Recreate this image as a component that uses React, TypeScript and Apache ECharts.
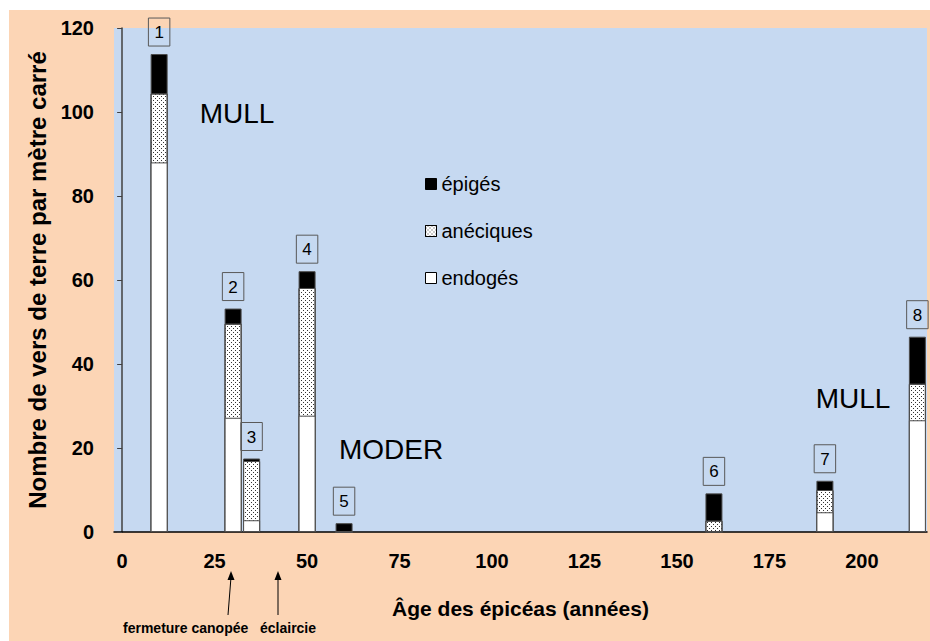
import React, { useEffect, useRef } from 'react';
import * as echarts from 'echarts';

// Data
const ages = [10, 30, 35, 50, 60, 160, 190, 215];
const siteLabels = ['1', '2', '3', '4', '5', '6', '7', '8'];
const endoges = [88, 27.2, 2.8, 27.7, 0, 0, 4.7, 26.6];
const aneciques = [16.4, 22.4, 14.1, 30.4, 0, 2.7, 5.3, 8.7];
const epiges = [9.4, 3.6, 0.6, 4.0, 2.1, 6.5, 2.2, 11.2];
const xTickValues = [0, 25, 50, 75, 100, 125, 150, 175, 200];
const legendOrder = ['épigés', 'anéciques', 'endogés'];

const FONT = "Arial, 'Liberation Sans', sans-serif";

export default function App() {
  const ref = useRef<HTMLDivElement>(null);
  useEffect(() => {
    if (!ref.current) return;
    const chart = echarts.init(ref.current, null, { renderer: 'svg' });
    const border = { borderColor: '#4d4d4d', borderWidth: 1 };
    // Stack manually (value x-axis): each layer drawn from 0 to its cumulative top,
    // later layers drawn over earlier ones.
    const topEndo = endoges.map((v) => v);
    const topAnec = endoges.map((v, i) => v + aneciques[i]);
    const topEpi = endoges.map((v, i) => v + aneciques[i] + epiges[i]);
    const pair = (vals: number[]) => ages.map((a, i) => [a, vals[i]]);
    chart.setOption({
      animation: false,
      backgroundColor: '#FCD5B5',
      textStyle: { fontFamily: FONT },
      grid: {
        left: 105,
        right: 3,
        top: 18,
        bottom: 109,
        show: true,
        backgroundColor: '#C6D9F1',
        borderWidth: 0,
      },
      legend: {
        data: legendOrder,
        orient: 'vertical',
        left: 416,
        top: 164,
        padding: 0,
        itemWidth: 11,
        itemHeight: 11,
        itemGap: 27,
        icon: 'rect',
        textStyle: { fontSize: 20, color: '#000', fontFamily: FONT },
        itemStyle: { borderColor: '#000', borderWidth: 1 },
      },
      xAxis: {
        type: 'value',
        min: -2.2,
        max: 217.6,
        axisLine: { show: true, onZero: true, lineStyle: { color: '#000', width: 1.5 } },
        axisTick: { show: false },
        splitLine: { show: false },
        axisLabel: {
          customValues: xTickValues,
          fontSize: 20,
          fontWeight: 'bold',
          color: '#000',
          margin: 19,
          fontFamily: FONT,
        },
        name: 'Âge des épicéas (années)',
        nameLocation: 'middle',
        nameGap: 66,
        nameTextStyle: { fontSize: 21, fontWeight: 'bold', color: '#000', fontFamily: FONT },
      },
      yAxis: {
        type: 'value',
        min: 0,
        max: 120,
        interval: 20,
        axisLine: { show: true, lineStyle: { color: '#404040', width: 1.5 } },
        axisTick: { show: true, length: 5, lineStyle: { color: '#404040' } },
        splitLine: { show: false },
        axisLabel: { fontSize: 20, fontWeight: 'bold', color: '#000', margin: 20, fontFamily: FONT },
        name: 'Nombre de vers de terre par mètre carré',
        nameLocation: 'middle',
        nameGap: 65,
        nameTextStyle: { fontSize: 24, fontWeight: 'bold', color: '#000', fontFamily: FONT },
      },
      series: [
        {
          name: 'épigés',
          type: 'bar',
          barWidth: 17,
          barGap: '-100%',
          data: pair(topEpi),
          itemStyle: { color: '#000000', ...border },
          label: {
            show: true,
            position: 'top',
            distance: 8,
            formatter: (p: any) => siteLabels[p.dataIndex],
            fontSize: 17,
            color: '#000',
            fontFamily: FONT,
            borderColor: '#595959',
            borderWidth: 1,
            padding: [6, 6, 5, 6],
          },
        },
        {
          name: 'anéciques',
          type: 'bar',
          barWidth: 17,
          barGap: '-100%',
          data: pair(topAnec),
          itemStyle: {
            color: '#ffffff',
            ...border,
            decal: {
              symbol: 'rect',
              symbolSize: 1,
              color: '#333333',
              dashArrayX: [[1, 3], [0, 2, 1, 1]],
              dashArrayY: [1, 1],
              rotation: 0,
            },
          },
        },
        {
          name: 'endogés',
          type: 'bar',
          barWidth: 17,
          barGap: '-100%',
          data: pair(topEndo),
          itemStyle: { color: '#ffffff', ...border },
        },
      ],
      graphic: [
        {
          type: 'text',
          x: 228,
          y: 103,
          style: { text: 'MULL', fontSize: 28, fontFamily: FONT, fill: '#000', align: 'center', verticalAlign: 'middle' },
        },
        {
          type: 'text',
          x: 382,
          y: 439,
          style: { text: 'MODER', fontSize: 28, fontFamily: FONT, fill: '#000', align: 'center', verticalAlign: 'middle' },
        },
        {
          type: 'text',
          x: 844,
          y: 388,
          style: { text: 'MULL', fontSize: 28, fontFamily: FONT, fill: '#000', align: 'center', verticalAlign: 'middle' },
        },
        {
          type: 'line',
          shape: { x1: 219, y1: 605, x2: 222, y2: 567 },
          style: { stroke: '#000', lineWidth: 1 },
        },
        {
          type: 'polygon',
          shape: { points: [[222, 561], [218.5, 570], [225.5, 570]] },
          style: { fill: '#000' },
        },
        {
          type: 'line',
          shape: { x1: 269, y1: 605, x2: 269, y2: 567 },
          style: { stroke: '#000', lineWidth: 1 },
        },
        {
          type: 'polygon',
          shape: { points: [[269, 561], [265.5, 570], [272.5, 570]] },
          style: { fill: '#000' },
        },
        {
          type: 'text',
          x: 114,
          y: 618,
          style: { text: 'fermeture canopée', fontSize: 14, fontWeight: 'bold', fontFamily: FONT, fill: '#000', align: 'left', verticalAlign: 'middle' },
        },
        {
          type: 'text',
          x: 251,
          y: 618,
          style: { text: 'éclaircie', fontSize: 14, fontWeight: 'bold', fontFamily: FONT, fill: '#000', align: 'left', verticalAlign: 'middle' },
        },
      ],
    });
    return () => chart.dispose();
  }, []);
  return (
    <div
      ref={ref}
      style={{ position: 'fixed', left: 9, top: 10, width: 921, height: 631 }}
    />
  );
}
